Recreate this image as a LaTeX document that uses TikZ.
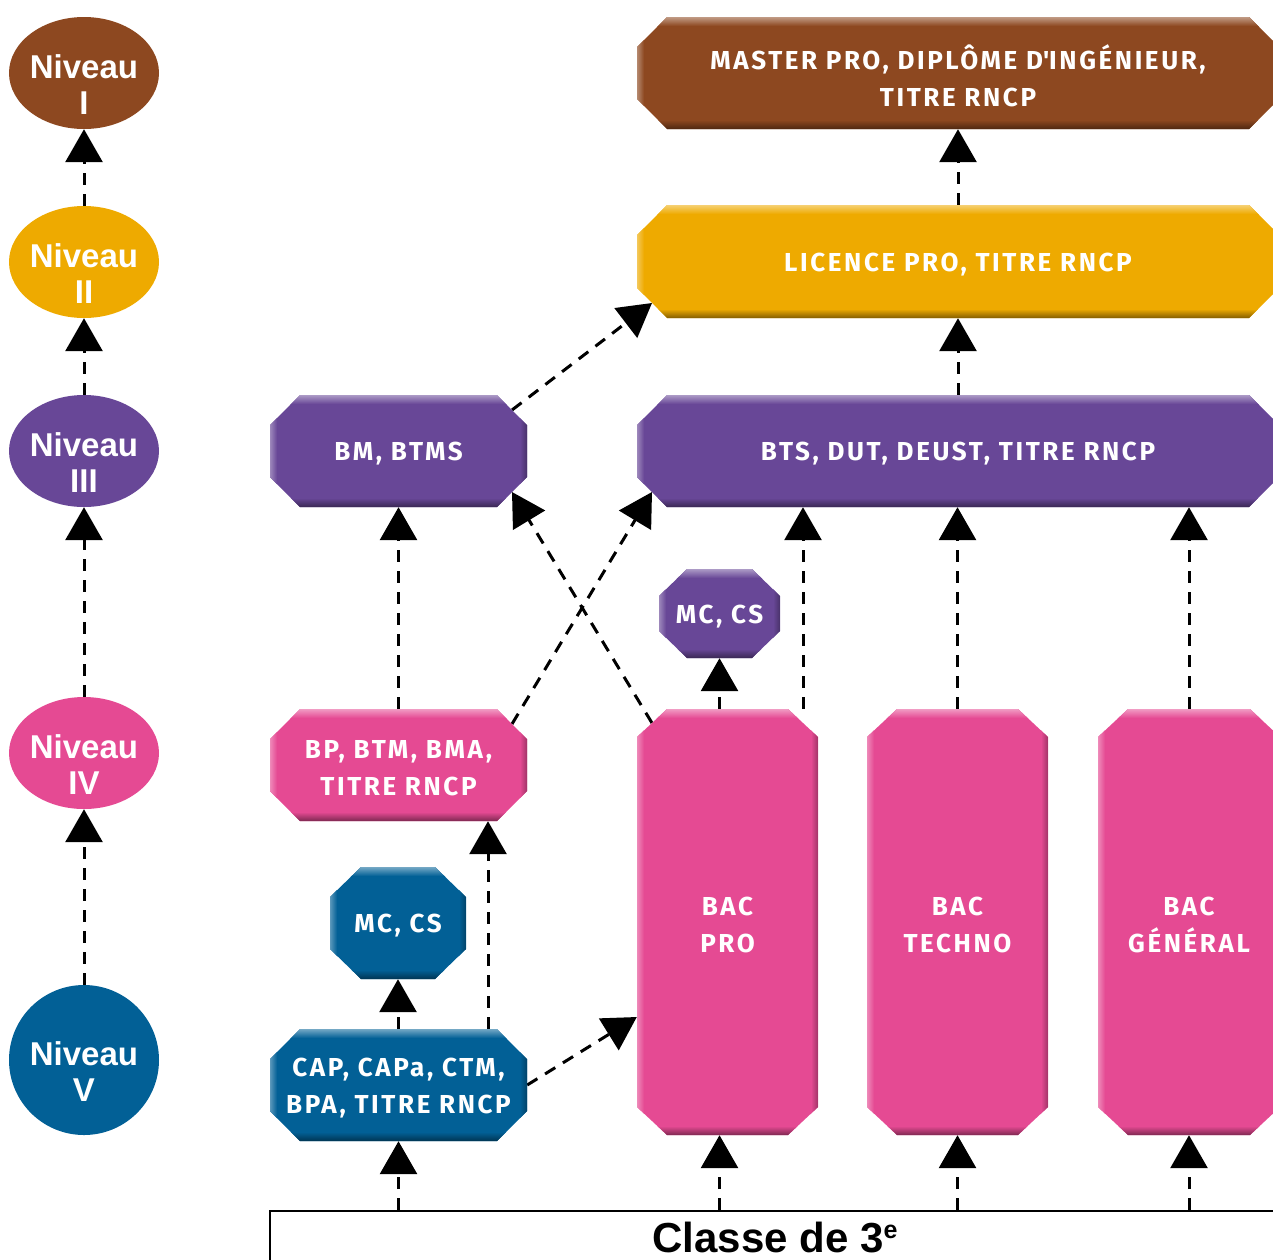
\documentclass[tikz,border=0pt]{standalone}
\usepackage{fontspec}
\setmainfont{Liberation Sans}
\newfontfamily\boxfont[LetterSpace=10]{Fira Sans}
\usetikzlibrary{arrows.meta,shapes.geometric,fit,calc}
\definecolor{cbrown}{RGB}{141,72,32}
\definecolor{cyellow}{RGB}{238,170,0}
\definecolor{cpurple}{RGB}{104,71,151}
\definecolor{cpink}{RGB}{229,74,147}
\definecolor{cblue}{RGB}{2,96,150}
\pgfdeclarelayer{background}
\pgfsetlayers{background,main}
\tikzset{
 arr/.style={-{Triangle[length=33pt,width=37pt]}, line width=3pt, dash pattern=on 12pt off 9pt},
 niv/.style={ellipse, minimum width=150pt, minimum height=112pt, inner sep=0pt},
 nivtxt/.style={text=white, font=\fontsize{33}{36}\selectfont\bfseries, align=center, inner sep=0pt},
 boxtext/.style={text=white, font=\boxfont\bfseries\fontsize{26}{37}\selectfont, align=center, inner sep=0pt},
}
% #1 name, #2 x1, #3 y1, #4 x2, #5 y2, #6 chamfer dx, #7 chamfer dy, #8 colour, #9 text
\newcommand\obox[9]{%
 \fill[#8] (#2+#6,#3) -- (#4-#6,#3) -- (#4,#3+#7) -- (#4,#5-#7) -- (#4-#6,#5) -- (#2+#6,#5) -- (#2,#5-#7) -- (#2,#3+#7) -- cycle;
 \begin{scope}
  \clip (#2+#6,#3) -- (#4-#6,#3) -- (#4,#3+#7) -- (#4,#5-#7) -- (#4-#6,#5) -- (#2+#6,#5) -- (#2,#5-#7) -- (#2,#3+#7) -- cycle;
  \shade[left color=#8!65!white, right color=#8] (#2,#3) rectangle (#2+7,#5);
  \shade[left color=#8, right color=#8!70!black] (#4-7,#3) rectangle (#4,#5);
  \shade[top color=#8!55!white, bottom color=#8] (#2,#3) rectangle (#4,#3+9);
  \shade[top color=#8, bottom color=#8!55!black] (#2,#5-9) rectangle (#4,#5);
 \end{scope}
 \node[inner sep=0pt, fit={(#2,#3) (#4,#5)}] (#1) {};
 \node[boxtext] (#1t) at ([yshift=-3pt]#1.center) {#9};
 \coordinate (#1-nw) at (#2+#6/2,#3+#7/2);
 \coordinate (#1-ne) at (#4-#6/2,#3+#7/2);
 \coordinate (#1-sw) at (#2+#6/2,#5-#7/2);
 \coordinate (#1-se) at (#4-#6/2,#5-#7/2);
}
\begin{document}
\begin{tikzpicture}[x=1pt,y=-1pt]
\useasboundingbox (0,0) rectangle (1273,1259);
\clip (0,0) rectangle (1273,1259);

% levels
\node[niv, fill=cbrown] (n1) at (84,73) {};
\node[niv, fill=cyellow] (n2) at (84,262) {};
\node[niv, fill=cpurple] (n3) at (84,451) {};
\node[niv, fill=cpink] (n4) at (84,753) {};
\node[niv, fill=cblue, minimum height=150pt] (n5) at (84,1060) {};
\node[nivtxt] (n1t) at ([yshift=-12pt]n1.center) {Niveau\\I};
\node[nivtxt] (n2t) at ([yshift=-12pt]n2.center) {Niveau\\II};
\node[nivtxt] (n3t) at ([yshift=-12pt]n3.center) {Niveau\\III};
\node[nivtxt] (n4t) at ([yshift=-12pt]n4.center) {Niveau\\IV};
\node[nivtxt] (n5t) at ([yshift=-12pt]n5.center) {Niveau\\V};

% boxes
\obox{master}{637}{17}{1279}{129}{30}{30}{cbrown}{MASTER PRO, DIPLÔME D\textquotesingle{}INGÉNIEUR,\\TITRE RNCP}
\obox{licence}{637}{205}{1279}{318}{30}{30}{cyellow}{LICENCE PRO, TITRE RNCP}
\obox{bts}{637}{395}{1279}{507}{30}{30}{cpurple}{BTS, DUT, DEUST, TITRE RNCP}
\obox{bm}{270}{395}{527}{507}{30}{30}{cpurple}{BM, BTMS}
\obox{bp}{270}{709}{527}{821}{30}{30}{cpink}{BP, BTM, BMA,\\TITRE RNCP}
\obox{mcp}{659}{569}{780}{658}{28}{27}{cpurple}{MC, CS}
\obox{mcb}{330}{867}{466}{979}{31}{30}{cblue}{MC, CS}
\obox{cap}{270}{1029}{527}{1141}{30}{30}{cblue}{CAP, CAPa, CTM,\\BPA, TITRE RNCP}
\obox{bacpro}{637}{709}{818}{1135}{30}{28}{cpink}{BAC\\PRO}
\obox{techno}{867}{709}{1048}{1135}{30}{28}{cpink}{BAC\\TECHNO}
\obox{general}{1098}{709}{1280}{1135}{30}{28}{cpink}{BAC\\GÉNÉRAL}

% base bar
\node[draw, line width=2pt, inner sep=0pt, fit={(270,1211) (1300,1300)}] (classe) {};
\node[font=\fontsize{42}{42}\selectfont\bfseries, anchor=base, inner sep=0pt] (classetxt) at (775,1252) {Classe de 3\raisebox{14pt}{\fontsize{25}{25}\selectfont e}};

% connectors
\begin{pgfonlayer}{background}
\draw[arr] (n2.north) -- (n1.south);
\draw[arr] (n3.north) -- (n2.south);
\draw[arr] (n4.north) -- (n3.south);
\draw[arr] (n5.north) -- (n4.south);
\draw[arr] (licence.north) -- (master.south);
\draw[arr] (bts.north) -- (licence.south);
\draw[arr] (bm-ne) -- (licence-sw);
\draw[arr] (bp.north) -- (bm.south);
\draw[arr] (bp-ne) -- (bts-sw);
\draw[arr] (bacpro-nw) -- (bm-se);
\draw[arr] (bacpro.north -| mcp.south) -- (mcp.south);
\draw[arr] ([xshift=75.5pt]bacpro.north) -- ([xshift=75.5pt]bacpro.north |- bts.south);
\draw[arr] (techno.north) -- (techno.north |- bts.south);
\draw[arr] (general.north) -- (general.north |- bts.south);
\draw[arr] (cap.north -| mcb.south) -- (mcb.south);
\draw[arr] ([xshift=89.5pt]cap.north) -- ([xshift=89.5pt]cap.north |- bp.south);
\draw[arr] (cap.east) -- ($(bacpro.west)+(0,95)$);
\draw[arr] (classe.north -| cap.south) -- (cap.south);
\draw[arr] (classe.north -| mcp.south) -- (bacpro.south -| mcp.south);
\draw[arr] (classe.north -| techno.south) -- (techno.south);
\draw[arr] (classe.north -| general.south) -- (general.south);
\end{pgfonlayer}
\end{tikzpicture}
\end{document}
